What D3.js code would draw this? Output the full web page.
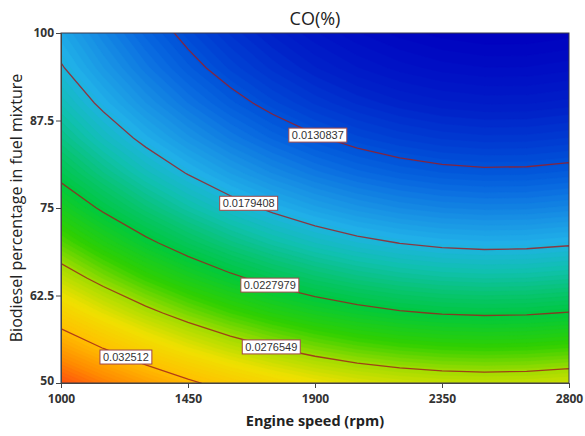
<!DOCTYPE html>
<html>
<head>
<meta charset="utf-8">
<script src="https://cdn.jsdelivr.net/npm/d3@7"></script>
<style>
  body { margin: 0; background: #fff; }
  text { font-family: "Open Sans", sans-serif; }
</style>
</head>
<body>
<svg id="chart"></svg>
<script>
// Engine speed grid (rpm) - columns
const speeds = [1000, 1150, 1300, 1450, 1600, 1750, 1900, 2050, 2200, 2350, 2500, 2650, 2800];
// Biodiesel percentage grid - rows, bottom to top
const blends = [50, 55, 60, 65, 70, 75, 80, 85, 90, 95, 100];
// CO (%), one row per blend
const coValues = [
  [0.03716, 0.03556, 0.03412, 0.03285, 0.03174, 0.03081, 0.03004, 0.02944, 0.02901, 0.02874, 0.02864, 0.02871, 0.02895],
  [0.03408, 0.03247, 0.03103, 0.02975, 0.02863, 0.02770, 0.02692, 0.02631, 0.02588, 0.02560, 0.02549, 0.02556, 0.02579],
  [0.03124, 0.02963, 0.02817, 0.02689, 0.02577, 0.02482, 0.02404, 0.02343, 0.02298, 0.02270, 0.02259, 0.02264, 0.02287],
  [0.02864, 0.02702, 0.02556, 0.02427, 0.02314, 0.02219, 0.02140, 0.02078, 0.02033, 0.02004, 0.01992, 0.01997, 0.02019],
  [0.02628, 0.02465, 0.02319, 0.02189, 0.02075, 0.01980, 0.01900, 0.01837, 0.01792, 0.01762, 0.01749, 0.01754, 0.01775],
  [0.02416, 0.02253, 0.02105, 0.01975, 0.01861, 0.01764, 0.01684, 0.01621, 0.01574, 0.01544, 0.01531, 0.01534, 0.01555],
  [0.02228, 0.02064, 0.01916, 0.01785, 0.01670, 0.01573, 0.01492, 0.01428, 0.01381, 0.01350, 0.01336, 0.01339, 0.01359],
  [0.02064, 0.01899, 0.01751, 0.01619, 0.01503, 0.01406, 0.01324, 0.01259, 0.01212, 0.01180, 0.01165, 0.01168, 0.01187],
  [0.01924, 0.01759, 0.01609, 0.01477, 0.01361, 0.01262, 0.01180, 0.01115, 0.01066, 0.01034, 0.01019, 0.01020, 0.01039],
  [0.01808, 0.01642, 0.01492, 0.01359, 0.01242, 0.01143, 0.01060, 0.00994, 0.00945, 0.00912, 0.00896, 0.00897, 0.00915],
  [0.01716, 0.01549, 0.01399, 0.01265, 0.01147, 0.01048, 0.00964, 0.00897, 0.00848, 0.00814, 0.00797, 0.00798, 0.00815]
];
// labelled contour levels and the speed where each label sits
const contourLevels = [0.0130837, 0.0179408, 0.0227979, 0.0276549, 0.032512];
const labelSpeeds = [1910, 1665, 1740, 1745, 1230];
const xTicks = [1000, 1450, 1900, 2350, 2800];
const yTicks = [50, 62.5, 75, 87.5, 100];

const width = 585, height = 436;
const margin = {top: 33, right: 16, bottom: 53, left: 61};
const svg = d3.select("#chart").attr("width", width).attr("height", height);

const x = d3.scaleLinear().domain([1000, 2800]).range([margin.left, width - margin.right]);
const y = d3.scaleLinear().domain([50, 100]).range([height - margin.bottom, margin.top]);

const nx = speeds.length, ny = blends.length;
const grid = coValues.flat();

// d3.contours puts sample i at grid coordinate i + 0.5
const gx = d3.scaleLinear().domain([0.5, nx - 0.5]).range([x(speeds[0]), x(speeds[nx - 1])]);
const gy = d3.scaleLinear().domain([0.5, ny - 0.5]).range([y(blends[0]), y(blends[ny - 1])]);
const path = d3.geoPath(d3.geoTransform({
  point(px, py) { this.stream.point(gx(px), gy(py)); }
}));

// jet-like colour ramp, navy (low) to red-orange (high)
const color = d3.scaleLinear()
  .domain([0.0080, 0.0105, 0.0130, 0.0142, 0.0160, 0.0176, 0.0195, 0.0212, 0.0228, 0.0255, 0.0277, 0.0300, 0.0325, 0.0350, 0.0372])
  .range(["#0000c0", "#0020c8", "#0050d8", "#0868e0", "#1890e4", "#20b0e8", "#10c0b0", "#08c470",
          "#00c840", "#30d000", "#a0dc00", "#f0e000", "#ffc000", "#ff8c00", "#ff5010"])
  .clamp(true);

svg.append("defs").append("clipPath").attr("id", "plotClip")
  .append("rect")
  .attr("x", margin.left).attr("y", margin.top)
  .attr("width", width - margin.left - margin.right)
  .attr("height", height - margin.top - margin.bottom);

const plot = svg.append("g").attr("clip-path", "url(#plotClip)");

// filled bands
const [vmin, vmax] = d3.extent(grid);
const step = (vmax - vmin) / 90;
const bands = d3.contours().size([nx, ny]).thresholds(d3.range(vmin, vmax, step))(grid);
plot.selectAll("path.band")
  .data(bands)
  .join("path")
  .attr("class", "band")
  .attr("d", path)
  .attr("fill", d => color(d.value + step / 2))
  .attr("stroke", d => color(d.value + step / 2))
  .attr("stroke-width", 0.5);

// contour lines
const lines = d3.contours().size([nx, ny]).thresholds(contourLevels)(grid);
plot.selectAll("path.line")
  .data(lines)
  .join("path")
  .attr("class", "line")
  .attr("d", path)
  .attr("fill", "none")
  .attr("stroke", "#a01c1c")
  .attr("stroke-opacity", 0.8)
  .attr("stroke-width", 1.3);

// y of a contour line at a given pixel x
function crossingY(geom, px) {
  let best = null;
  geom.coordinates.forEach(poly => poly.forEach(ring => {
    for (let i = 1; i < ring.length; i++) {
      const ax = gx(ring[i - 1][0]), ay = gy(ring[i - 1][1]);
      const bx = gx(ring[i][0]), by = gy(ring[i][1]);
      if (ax !== bx && (ax - px) * (bx - px) <= 0) {
        const yy = ay + (px - ax) / (bx - ax) * (by - ay);
        if (yy > margin.top + 2 && yy < height - margin.bottom - 2) best = yy;
      }
    }
  }));
  return best;
}

// frame
svg.append("rect")
  .attr("x", margin.left).attr("y", margin.top)
  .attr("width", width - margin.left - margin.right)
  .attr("height", height - margin.top - margin.bottom)
  .attr("fill", "none")
  .attr("stroke", "#3a3a4a")
  .attr("stroke-width", 1);

// contour labels
lines.forEach((geom, i) => {
  const px = x(labelSpeeds[i]);
  const py = crossingY(geom, px);
  if (py == null) return;
  const g = svg.append("g").attr("transform", `translate(${px},${py})`);
  const txt = g.append("text")
    .attr("text-anchor", "middle")
    .attr("dy", "0.35em")
    .attr("font-size", "11px")
    .attr("fill", "#333")
    .style("font-family", "'Liberation Sans', Arial, sans-serif")
    .text(contourLevels[i]);
  const bb = txt.node().getBBox();
  g.insert("rect", "text")
    .attr("x", bb.x - 3).attr("y", bb.y - 1)
    .attr("width", bb.width + 6).attr("height", bb.height + 2)
    .attr("fill", "#fff")
    .attr("stroke", "#a04848")
    .attr("stroke-width", 1);
});

// axes
const xAxis = svg.append("g")
  .attr("transform", `translate(0,${height - margin.bottom})`)
  .call(d3.axisBottom(x).tickValues(xTicks).tickSize(5).tickPadding(6).tickFormat(d3.format("d")));
const yAxis = svg.append("g")
  .attr("transform", `translate(${margin.left},0)`)
  .call(d3.axisLeft(y).tickValues(yTicks).tickSize(5).tickPadding(2).tickFormat(d => d));

[xAxis, yAxis].forEach(a => {
  a.select(".domain").attr("stroke", "#444");
  a.selectAll(".tick line").attr("stroke", "#444");
  a.selectAll(".tick text")
    .attr("fill", "#333")
    .style("font-family", "'Open Sans', sans-serif")
    .style("font-size", "12px")
    .style("font-weight", "bold");
});
// lift the lowest y label a touch so it clears "1000"
yAxis.selectAll(".tick text").filter(d => d === 50).attr("dy", "0.1em");

// titles
svg.append("text")
  .attr("x", (margin.left + width - margin.right) / 2)
  .attr("y", 25)
  .attr("text-anchor", "middle")
  .attr("font-size", "18px")
  .attr("fill", "#222")
  .text("CO(%)");

svg.append("text")
  .attr("x", (margin.left + width - margin.right) / 2)
  .attr("y", 426)
  .attr("text-anchor", "middle")
  .attr("font-size", "14.5px")
  .attr("font-weight", "bold")
  .attr("fill", "#222")
  .text("Engine speed (rpm)");

svg.append("text")
  .attr("transform", `translate(22,${(margin.top + height - margin.bottom) / 2}) rotate(-90)`)
  .attr("text-anchor", "middle")
  .attr("font-size", "16px")
  .attr("fill", "#222")
  .text("Biodiesel percentage in fuel mixture");
</script>
</body>
</html>
